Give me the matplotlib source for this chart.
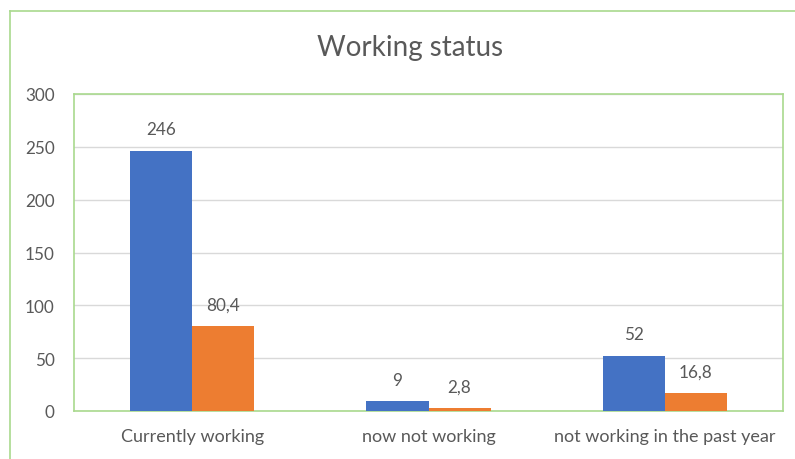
import numpy as np
import matplotlib
matplotlib.use("Agg")
import matplotlib.pyplot as plt
from matplotlib.lines import Line2D

plt.rcParams["font.family"] = ["Lato", "DejaVu Sans"]

categories = ["Currently working", "now not working", "not working in the past year"]
counts = [246, 9, 52]
percents = [80.4, 2.8, 16.8]
yticks = [0, 50, 100, 150, 200, 250, 300]

blue = "#4472C4"
orange = "#ED7D31"
green = "#A9D98E"
text_col = "#595959"


def fmt(v):
    return str(v).replace(".", ",")


fig = plt.figure(figsize=(7.95, 4.6), dpi=100)
ax = fig.add_axes([74 / 795, 48 / 460, (783 - 74) / 795, (412 - 95) / 460])

x = np.arange(len(categories))
bar_width = 0.263
b1 = ax.bar(x - bar_width / 2, counts, width=bar_width, color=blue, zorder=3)
b2 = ax.bar(x + bar_width / 2, percents, width=bar_width, color=orange, zorder=3)

for bars, vals in [(b1, counts), (b2, percents)]:
    for bar, v in zip(bars, vals):
        ax.annotate(fmt(v), (bar.get_x() + bar.get_width() / 2, bar.get_height()),
                    xytext=(0, 10), textcoords="offset points", ha="center", va="bottom",
                    fontsize=12.3, color=text_col)

ax.set_xlim(-0.5, len(categories) - 0.5)
ax.set_ylim(0, 300)
ax.set_yticks(yticks)
ax.set_xticks(x)
ax.set_xticklabels(categories, fontsize=13)
ax.tick_params(axis="both", length=0, labelcolor=text_col)
ax.tick_params(axis="y", pad=14, labelsize=12.3)
ax.tick_params(axis="x", pad=12.5)
ax.grid(axis="y", color="#D9D9D9", linewidth=1, zorder=0)
for s in ax.spines.values():
    s.set_color(green)
    s.set_linewidth(1.2)

fig.text(410 / 795, 1 - 48 / 460, "Working status", ha="center", va="center",
         fontsize=20, color=text_col)

# outer chart border (cropped at right/bottom)
fig.add_artist(Line2D([10 / 795, 1], [1 - 12 / 460, 1 - 12 / 460], color=green,
                      linewidth=1.2, transform=fig.transFigure))
fig.add_artist(Line2D([10 / 795, 10 / 795], [0, 1 - 12 / 460], color=green,
                      linewidth=1.2, transform=fig.transFigure))

fig.savefig("out.png", dpi=100)
